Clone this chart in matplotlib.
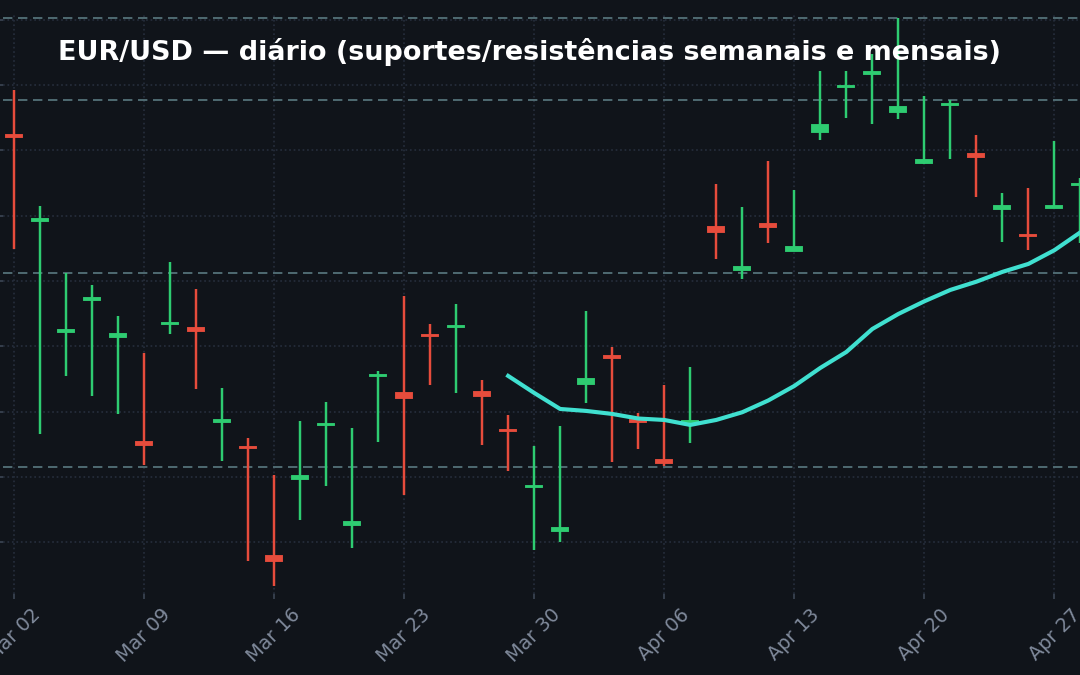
import numpy as np
import matplotlib
matplotlib.use('Agg')
import matplotlib.pyplot as plt

# daily EUR/USD candles, Mar 02 .. Apr 28 (business days)
opens = [1.10113, 1.09455, 1.08612, 1.08853, 1.08574, 1.07768, 1.08672, 1.08642, 1.07920, 1.07729,
         1.06892, 1.07482, 1.07898, 1.07135, 1.08270, 1.08144, 1.08584, 1.08647, 1.08152, 1.07859,
         1.07422, 1.07086, 1.08212, 1.08427, 1.07933, 1.07626, 1.07919, 1.09411, 1.09085, 1.09432,
         1.09232, 1.10137, 1.10487, 1.10582, 1.10295, 1.09899, 1.10347, 1.09969, 1.09552, 1.09349,
         1.09559, 1.09734]
highs = [1.10459, 1.09571, 1.09057, 1.08970, 1.08733, 1.08446, 1.09141, 1.08941, 1.08179, 1.07797,
         1.07516, 1.07929, 1.08074, 1.07871, 1.08314, 1.08883, 1.08667, 1.08825, 1.08243, 1.07977,
         1.07739, 1.07892, 1.08767, 1.08496, 1.07990, 1.08206, 1.08338, 1.09740, 1.09563, 1.09920,
         1.09695, 1.10610, 1.10610, 1.10734, 1.11013, 1.10412, 1.10383, 1.10115, 1.09669, 1.09711,
         1.10073, 1.09785]
lows = [1.09242, 1.07832, 1.08274, 1.08122, 1.07985, 1.07589, 1.08590, 1.08174, 1.07621, 1.06857,
        1.06664, 1.07173, 1.07431, 1.06956, 1.07771, 1.07363, 1.08203, 1.08146, 1.07748, 1.07542,
        1.06943, 1.07002, 1.08064, 1.07613, 1.07713, 1.07582, 1.07758, 1.09170, 1.09017, 1.09289,
        1.09228, 1.10075, 1.10243, 1.10204, 1.10239, 1.09896, 1.09936, 1.09643, 1.09295, 1.09239,
        1.09556, 1.09287]
closes = [1.10099, 1.09477, 1.08628, 1.08866, 1.08593, 1.07741, 1.08681, 1.08619, 1.07938, 1.07719,
          1.06855, 1.07507, 1.07902, 1.07153, 1.08279, 1.08107, 1.08576, 1.08655, 1.08120, 1.07854,
          1.07427, 1.07109, 1.08247, 1.08412, 1.07920, 1.07605, 1.07926, 1.09375, 1.09103, 1.09411,
          1.09258, 1.10192, 1.10495, 1.10596, 1.10329, 1.09926, 1.10356, 1.09947, 1.09571, 1.09341,
          1.09575, 1.09745]

# 20-day moving average (from Mar 27 on)
ma_start = 19
ma20 = [1.08273, 1.08143, 1.08020, 1.08005, 1.07982, 1.07947, 1.07936, 1.07898, 1.07936, 1.07995,
        1.08085, 1.08196, 1.08334, 1.08456, 1.08632, 1.08747, 1.08844, 1.08931, 1.08994, 1.09069,
        1.09130, 1.09235, 1.09372]

# weekly / monthly supports and resistances
levels = [1.11012, 1.10385, 1.09061, 1.07576]

tick_pos = [0, 5, 10, 15, 20, 25, 30, 35, 40]
tick_labels = ['Mar 02', 'Mar 09', 'Mar 16', 'Mar 23', 'Mar 30', 'Apr 06', 'Apr 13', 'Apr 20', 'Apr 27']
y_ticks = [1.070, 1.075, 1.080, 1.085, 1.090, 1.095, 1.100, 1.105, 1.110]

bg = '#10141a'
green = '#2ecc71'
red = '#e74c3c'

fig = plt.figure(figsize=(8, 5), dpi=135, facecolor=bg)
W, H = 1080, 675
ax = fig.add_axes([3 / W, (H - 594) / H, (1096 - 3) / W, (594 - 15) / H])
ax.set_facecolor(bg)

x = np.arange(len(opens))
o = np.array(opens)
c = np.array(closes)
cols = [green if cc >= oo else red for oo, cc in zip(o, c)]

ax.vlines(x, lows, highs, colors=cols, linewidth=1.3, zorder=3)
ax.bar(x, np.abs(c - o), bottom=np.minimum(o, c), width=0.62, color=cols,
       edgecolor=cols, linewidth=1.0, zorder=4)

ax.plot(np.arange(ma_start, ma_start + len(ma20)), ma20, color='#40e0d0', linewidth=2.2, zorder=5)

for lv in levels:
    ax.axhline(lv, color='#526e75', linestyle=(0, (5, 3)), linewidth=1.0, zorder=2)

ax.set_xlim(-0.42, 41.6)
ax.set_ylim(1.06604, 1.11035)
ax.set_xticks(tick_pos)
ax.set_xticklabels(tick_labels, rotation=45)
ax.set_yticks(y_ticks)
ax.tick_params(colors='#404b5a', labelcolor='#7f899a', labelsize=10.3, length=2.5)
ax.grid(True, linestyle=':', color='#262e3c', linewidth=0.9, zorder=0)
for s in ax.spines.values():
    s.set_visible(False)

fig.text(529 / W, 1 - 52 / H, 'EUR/USD — diário (suportes/resistências semanais e mensais)',
         color='white', fontsize=14.4, fontweight='bold', ha='center', va='center')

fig.savefig('out.png', dpi=135, facecolor=bg)
